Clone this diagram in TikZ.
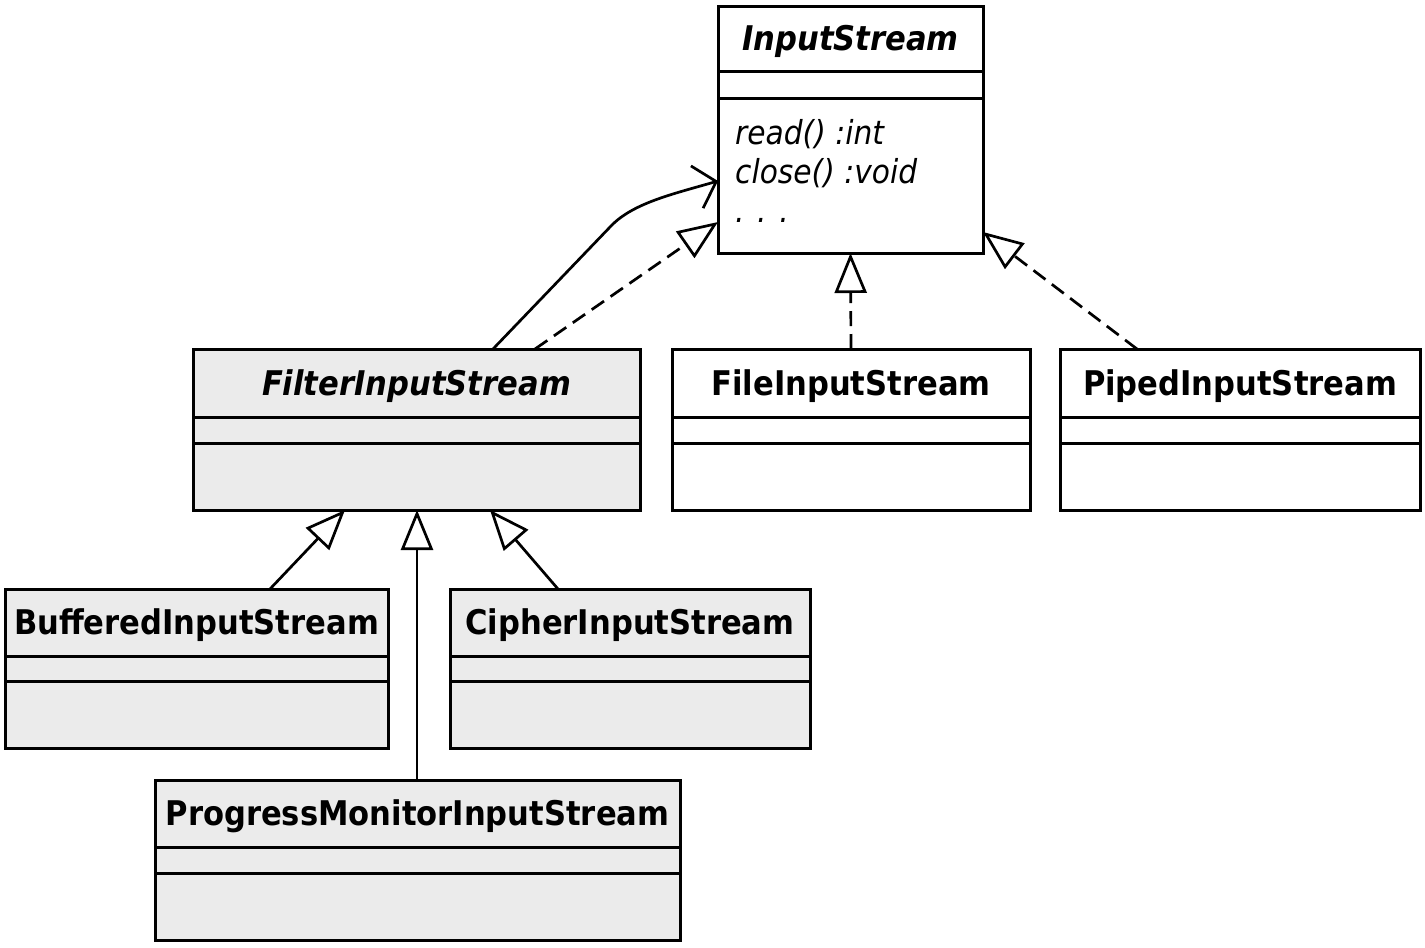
\documentclass[tikz,border=0pt]{standalone}
\usepackage{fontspec}
\setmainfont{DejaVu Sans}[FakeStretch=0.9]
\usetikzlibrary{calc,arrows.meta}
\definecolor{boxgray}{HTML}{EBEBEB}
\tikzset{
  classbox/.style={draw=black, line width=3pt, rectangle, anchor=north west, inner sep=0pt, outer sep=0pt},
  sepline/.style={draw=black, line width=3pt},
  titletext/.style={inner sep=0pt, font=\fontsize{34}{40}\selectfont\bfseries},
  methodtext/.style={inner sep=0pt, anchor=base west, font=\fontsize{33}{40}\selectfont\itshape},
  realize/.style={line width=2.7pt, dash pattern=on 15pt off 8pt, -{Triangle[open,length=40pt,width=32pt]}},
  inherit/.style={line width=2.7pt, -{Triangle[open,length=40pt,width=32pt]}},
  assoc/.style={line width=2.7pt, -{Straight Barb[length=20pt,width=44pt,line width=2.7pt]}},
}
\newcommand\umlbox[9]{%
  \node[classbox, fill=#6, minimum width=#4pt, minimum height=#5pt] (#1) at (#2,#3) {};
  \draw[sepline] ($(#1.north west)+(0,#7)$) -- ($(#1.north east)+(0,#7)$);
  \draw[sepline] ($(#1.north west)+(0,#8)$) -- ($(#1.north east)+(0,#8)$);
  \node[titletext] (#1-t) at ($(#1.north)+(0,#7/2+3)$) {#9};
}
\begin{document}
\begin{tikzpicture}[x=1pt,y=-1pt]
\path[use as bounding box, fill=white] (0,0) rectangle (1425,948);
\umlbox{is}{718}{6}{265}{247}{white}{65}{92}{\itshape InputStream}
\node[methodtext] (m1) at (735,144) {read() :int};
\node[methodtext] (m2) at (735,183) {close() :void};
\node[methodtext] (m3) at (735,222) {. . .};
\umlbox{filter}{193}{349}{447}{161}{boxgray}{68}{94}{\itshape FilterInputStream}
\umlbox{file}{672}{349}{358}{161}{white}{68}{94}{FileInputStream}
\umlbox{piped}{1060}{349}{360}{161}{white}{68}{94}{PipedInputStream}
\umlbox{buf}{5}{589}{383}{159}{boxgray}{67}{92}{BufferedInputStream}
\umlbox{cipher}{450}{589}{360}{159}{boxgray}{67}{92}{CipherInputStream}
\umlbox{prog}{155}{780}{525}{160}{boxgray}{67}{93}{ProgressMonitorInputStream}
% connectors
\draw[assoc] ($(filter.north west)+(300,0)$) -- ($(filter.north west)+(418,-123)$)
  .. controls ($(filter.north west)+(440,-146)$) and ($(is.north west)+(-45,188)$) .. ($(is.north west)+(0,175)$);
\draw[realize] ($(filter.north west)+(342,0)$) -- ($(is.north west)+(0,216)$);
\draw[realize] (file.north) -- (is.south);
\draw[realize] ($(piped.north west)+(77,0)$) -- ($(is.north east)+(0,226)$);
\draw[inherit] ($(buf.north west)+(265,0)$) -- ($(filter.south west)+(152,0)$);
\draw[inherit] ($(prog.north west)+(262,0)$) -- ($(filter.south west)+(224,0)$);
\draw[inherit] ($(cipher.north west)+(108,0)$) -- ($(filter.south west)+(297,0)$);
\end{tikzpicture}
\end{document}
